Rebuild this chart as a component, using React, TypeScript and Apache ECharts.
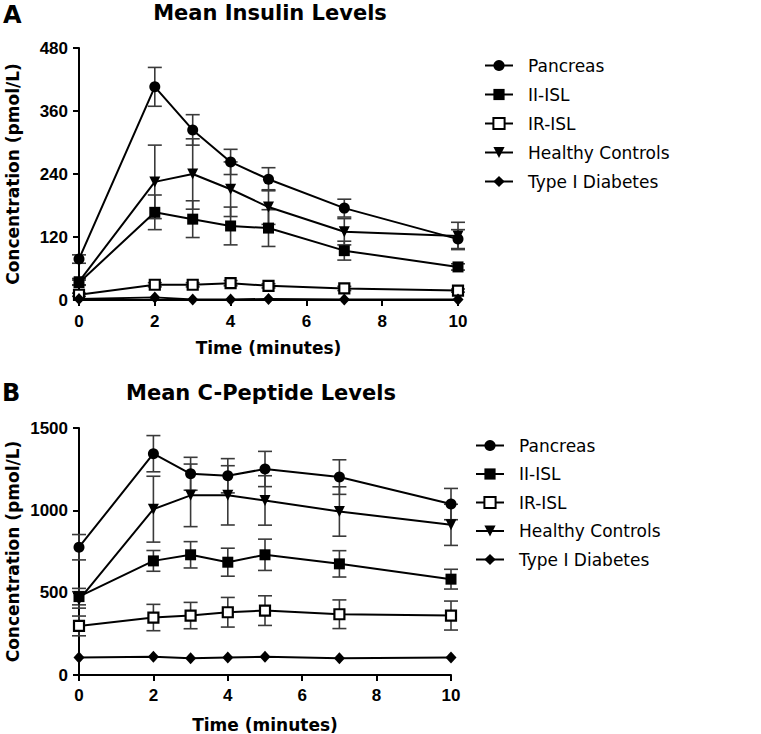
import React, { useEffect, useRef } from "react";
import * as echarts from "echarts";

const times = [0, 2, 3, 4, 5, 7, 10];
const seriesNames = ["Pancreas", "II-ISL", "IR-ISL", "Healthy Controls", "Type I Diabetes"];

// Insulin (A)
const insPancreas = [78, 406, 324, 263, 230, 175, 116];
const insPancreasErr = [8, 37, 29, 24, 22, 17, 18];
const insII = [33, 167, 154, 141, 137, 94, 63];
const insIIErr = [5, 33, 35, 36, 35, 18, 6];
const insIR = [10, 29, 29, 32, 27, 22, 18];
const insIRErr = [3, 4, 4, 5, 4, 4, 3];
const insHC = [35, 225, 240, 211, 177, 130, 122];
const insHCErr = [6, 70, 67, 52, 33, 25, 26];
const insT1D = [2, 5, 1, 1, 2, 1, 1];
const insT1DErr = [0, 0, 0, 0, 0, 0, 0];

// C-Peptide (B)
const cpPancreas = [776, 1344, 1222, 1210, 1251, 1202, 1038];
const cpPancreasErr = [77, 110, 100, 104, 107, 105, 95];
const cpII = [476, 693, 730, 685, 730, 675, 582];
const cpIIErr = [50, 63, 80, 85, 95, 80, 60];
const cpIR = [298, 349, 361, 381, 391, 369, 361];
const cpIRErr = [60, 80, 80, 90, 90, 87, 88];
const cpHC = [456, 1007, 1091, 1091, 1060, 993, 912];
const cpHCErr = [50, 200, 190, 180, 150, 150, 125];
const cpT1D = [107, 111, 101, 107, 111, 101, 107];
const cpT1DErr = [0, 0, 0, 0, 0, 0, 0];

const insTicks = [0, 120, 240, 360, 480];
const cpTicks = [0, 500, 1000, 1500];

const FONT = "DejaVu Sans";
const TICK_FONT = "Liberation Sans";

const markerStyles: any[] = [
  { symbol: "circle", symbolSize: 11, symbolRotate: 0, itemStyle: { color: "#000" } },
  { symbol: "rect", symbolSize: 11, symbolRotate: 0, itemStyle: { color: "#000" } },
  { symbol: "rect", symbolSize: 10, symbolRotate: 0, itemStyle: { color: "#fff", borderColor: "#000", borderWidth: 2.2 } },
  { symbol: "triangle", symbolSize: 11, symbolRotate: 180, itemStyle: { color: "#000" } },
  { symbol: "diamond", symbolSize: [11, 12], symbolRotate: 0, itemStyle: { color: "#000" } },
];

function buildSeries(values: number[][], errs: number[][], axisIdx: number) {
  const out: any[] = [];
  values.forEach((vals, i) => {
    const errData = times
      .map((t, j) => [t, vals[j] - errs[i][j], vals[j] + errs[i][j], errs[i][j]])
      .filter((d) => d[3] > 0);
    out.push({
      type: "custom",
      name: seriesNames[i] + " err",
      xAxisIndex: axisIdx,
      yAxisIndex: axisIdx,
      z: 2,
      silent: true,
      clip: false,
      encode: { x: 0, y: [1, 2] },
      data: errData,
      renderItem: (params: any, api: any) => {
        const x = api.value(0);
        const lo = api.coord([x, api.value(1)]);
        const hi = api.coord([x, api.value(2)]);
        const hw = 7;
        const st = { stroke: "#3a3a3a", lineWidth: 1.6 };
        return {
          type: "group",
          children: [
            { type: "line", shape: { x1: lo[0], y1: lo[1], x2: hi[0], y2: hi[1] }, style: st },
            { type: "line", shape: { x1: lo[0] - hw, y1: lo[1], x2: lo[0] + hw, y2: lo[1] }, style: st },
            { type: "line", shape: { x1: hi[0] - hw, y1: hi[1], x2: hi[0] + hw, y2: hi[1] }, style: st },
          ],
        };
      },
    });
    out.push({
      type: "line",
      name: seriesNames[i],
      xAxisIndex: axisIdx,
      yAxisIndex: axisIdx,
      z: 3,
      clip: false,
      data: times.map((t, j) => [t, vals[j]]),
      lineStyle: { color: "#000", width: 2 },
      showSymbol: true,
      ...markerStyles[i],
    });
  });
  return out;
}

function App() {
  const ref = useRef<HTMLDivElement>(null);
  useEffect(() => {
    if (!ref.current) return;
    const chart = echarts.init(ref.current, null, { renderer: "svg" });
    const axisCommon = {
      axisLine: { lineStyle: { color: "#000", width: 2 } },
      axisTick: { show: true, length: 6, lineStyle: { color: "#000", width: 2 } },
      splitLine: { show: false },
      nameTextStyle: { fontFamily: FONT, fontWeight: "bold", fontSize: 17, color: "#000" },
    };
    const labelStyle = {
      fontFamily: TICK_FONT,
      fontWeight: "bold",
      fontSize: 17,
      color: "#000",
      formatter: (v: number) => String(v),
    };
    const legendCommon = {
      orient: "vertical",
      itemWidth: 28,
      itemHeight: 14,
      data: seriesNames,
      selectedMode: false,
      textStyle: { fontFamily: FONT, fontSize: 17, color: "#000", padding: [0, 0, 0, 10] },
    };
    chart.setOption({
      animation: false,
      backgroundColor: "#fff",
      grid: [
        { left: 79, top: 48, width: 379, height: 252 },
        { left: 79, top: 428, width: 372, height: 247 },
      ],
      legend: [
        { ...legendCommon, left: 479, top: 52, itemGap: 12 },
        { ...legendCommon, left: 470, top: 432, itemGap: 11.5 },
      ],
      xAxis: [0, 1].map((g) => ({
        ...axisCommon,
        type: "value",
        gridIndex: g,
        min: 0,
        max: 10,
        interval: 2,
        name: "Time (minutes)",
        nameLocation: "middle",
        nameGap: g === 0 ? 39 : 41,
        axisLabel: { ...labelStyle, margin: g === 0 ? 13 : 12 },
      })),
      yAxis: [
        {
          ...axisCommon,
          type: "value",
          gridIndex: 0,
          min: insTicks[0],
          max: insTicks[insTicks.length - 1],
          interval: insTicks[1] - insTicks[0],
          name: "Concentration (pmol/L)",
          nameLocation: "middle",
          nameGap: 58,
          axisLabel: { ...labelStyle, margin: 11 },
        },
        {
          ...axisCommon,
          type: "value",
          gridIndex: 1,
          min: cpTicks[0],
          max: cpTicks[cpTicks.length - 1],
          interval: cpTicks[1] - cpTicks[0],
          name: "Concentration (pmol/L)",
          nameLocation: "middle",
          nameGap: 58,
          axisLabel: { ...labelStyle, margin: 11 },
        },
      ],
      graphic: [
        { type: "text", left: 3, top: 3, style: { text: "A", fontFamily: FONT, fontWeight: "bold", fontSize: 24, fill: "#000" } },
        { type: "text", x: 270, y: 13, style: { text: "Mean Insulin Levels", align: "center", verticalAlign: "middle", fontFamily: FONT, fontWeight: "bold", fontSize: 21, fill: "#000" } },
        { type: "text", left: 2, top: 381, style: { text: "B", fontFamily: FONT, fontWeight: "bold", fontSize: 24, fill: "#000" } },
        { type: "text", x: 261, y: 393, style: { text: "Mean C-Peptide Levels", align: "center", verticalAlign: "middle", fontFamily: FONT, fontWeight: "bold", fontSize: 21, fill: "#000" } },
      ],
      series: [
        ...buildSeries([insPancreas, insII, insIR, insHC, insT1D], [insPancreasErr, insIIErr, insIRErr, insHCErr, insT1DErr], 0),
        ...buildSeries([cpPancreas, cpII, cpIR, cpHC, cpT1D], [cpPancreasErr, cpIIErr, cpIRErr, cpHCErr, cpT1DErr], 1),
      ],
    });
    return () => chart.dispose();
  }, []);
  return <div ref={ref} style={{ position: "absolute", left: 0, top: 0, width: 761, height: 734 }} />;
}

export default App;
